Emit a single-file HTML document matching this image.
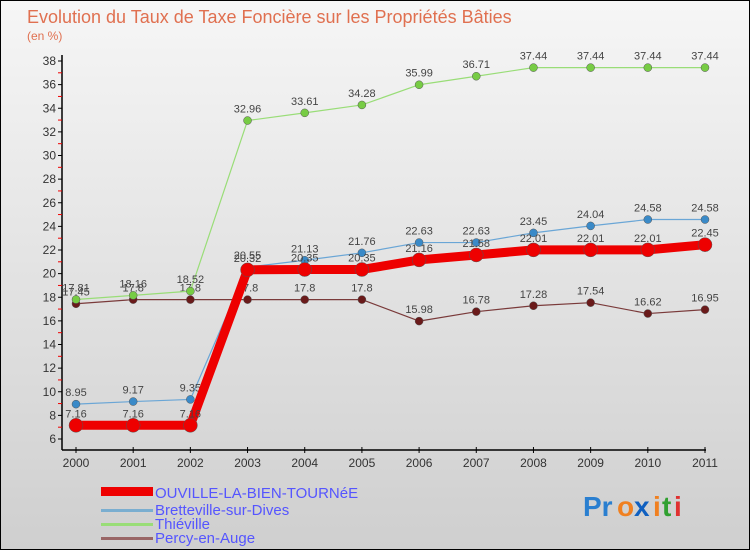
<!DOCTYPE html>
<html><head><meta charset="utf-8"><style>
html,body{margin:0;padding:0}
body{width:750px;height:550px;overflow:hidden;font-family:"Liberation Sans",sans-serif}
#c{position:relative;width:748px;height:548px;border:1px solid #000;background:linear-gradient(#f6f6f6,#cfcfcf)}
</style></head><body>
<div id="c">
<svg id="s" width="748" height="548" style="position:absolute;left:0;top:0">
<text x="26" y="22" font-size="18" fill="#e07050">Evolution du Taux de Taxe Foncière sur les Propriétés Bâties</text>
<text x="26" y="39" font-size="12" fill="#e07050">(en %)</text>
<g id="axes"></g><g id="series"></g>
<g>
<rect x="100" y="486" width="52" height="9" fill="#e00"/>
<text x="154" y="497" font-size="15" fill="#5555ff">OUVILLE-LA-BIEN-TOURNéE</text>
<rect x="100" y="508" width="52" height="3" fill="#7aaed0"/>
<text x="154" y="514" font-size="15" fill="#5555ff">Bretteville-sur-Dives</text>
<rect x="100" y="522" width="52" height="3" fill="#99dd77"/>
<text x="154" y="528" font-size="15" fill="#5555ff">Thiéville</text>
<rect x="100" y="536" width="52" height="3" fill="#996666"/>
<text x="154" y="542" font-size="15" fill="#5555ff">Percy-en-Auge</text>
</g>
<g font-size="28" font-weight="bold">
<text x="582" y="515" fill="#2a7fd0">Pr</text><text x="616" y="515" fill="#f08020">o</text><text x="633" y="515" fill="#1060c0">x</text><text x="652" y="515" fill="#f08020">i</text><text x="661" y="515" fill="#30a030">t</text><text x="673" y="515" fill="#e03030">i</text>
</g>
</svg>
</div>
<script>
const years=[2000,2001,2002,2003,2004,2005,2006,2007,2008,2009,2010,2011];
const yTicks=[6,8,10,12,14,16,18,20,22,24,26,28,30,32,34,36,38];
const ouville=[7.16,7.16,7.16,20.32,20.35,20.35,21.16,21.58,22.01,22.01,22.01,22.45];
const bretteville=[8.95,9.17,9.35,20.55,21.13,21.76,22.63,22.63,23.45,24.04,24.58,24.58];
const thieville=[17.81,18.16,18.52,32.96,33.61,34.28,35.99,36.71,37.44,37.44,37.44,37.44];
const percy=[17.45,17.8,17.8,17.8,17.8,17.8,15.98,16.78,17.28,17.54,16.62,16.95];
const NS="http://www.w3.org/2000/svg";
const X=i=>75+i*(629/11);
const Y=v=>438-(v-6)*(378/32);
function mk(t,a,p){const e=document.createElementNS(NS,t);for(const k in a)e.setAttribute(k,a[k]);p.appendChild(e);return e;}
const ax=document.getElementById('axes');
let l=mk('line',{x1:61,y1:Y(38)-6,x2:61,y2:449,stroke:'#000','stroke-width':1.5},ax);


l=mk('line',{x1:61,y1:449,x2:705,y2:449,stroke:'#000','stroke-width':1.5},ax);


yTicks.forEach(v=>{
 mk('line',{x1:57,y1:Y(v),x2:61,y2:Y(v),stroke:'#000'},ax);
 if(v<38)mk('line',{x1:57,y1:Y(v+1),x2:61,y2:Y(v+1),stroke:'#e00'},ax);
 const t=mk('text',{x:55,y:Y(v)+4,'font-size':12,'text-anchor':'end',fill:'#333'},ax);
 t.textContent=v;
 
 
});
years.forEach((yr,i)=>{
 mk('line',{x1:X(i),y1:446,x2:X(i),y2:452,stroke:'#000'},ax);
 const t=mk('text',{x:X(i),y:466,'font-size':12,'text-anchor':'middle',fill:'#333'},ax);
 t.textContent=yr;
 
 
});
const sg=document.getElementById('series');
function draw(name,vals,col,w,r,dot){
 const g=mk('g',{},sg);
 
 
 const p=mk('polyline',{points:vals.map((v,i)=>X(i)+','+Y(v)).join(' '),fill:'none',stroke:col,'stroke-width':w,'stroke-linejoin':'round'},g);
 
 
 vals.forEach((v,i)=>{
  const c=mk('circle',{cx:X(i),cy:Y(v),r:r,fill:dot,stroke:'#555','stroke-width':0.5},g);
  
  
  const t=mk('text',{x:X(i),y:Y(v)-8,'font-size':11,'text-anchor':'middle',fill:'#444'},g);
  t.textContent=v;
  
  
 });
}
draw('percy',percy,'#7a3a3a',1.2,4,'#6a1a1a');
draw('thieville',thieville,'#99dd77',1.2,4,'#77cc44');
draw('bretteville',bretteville,'#6aa6d6',1.2,4,'#3a8ac8');
draw('ouville',ouville,'#ee0000',9,7,'#ee0000');
</script>
</body></html>
